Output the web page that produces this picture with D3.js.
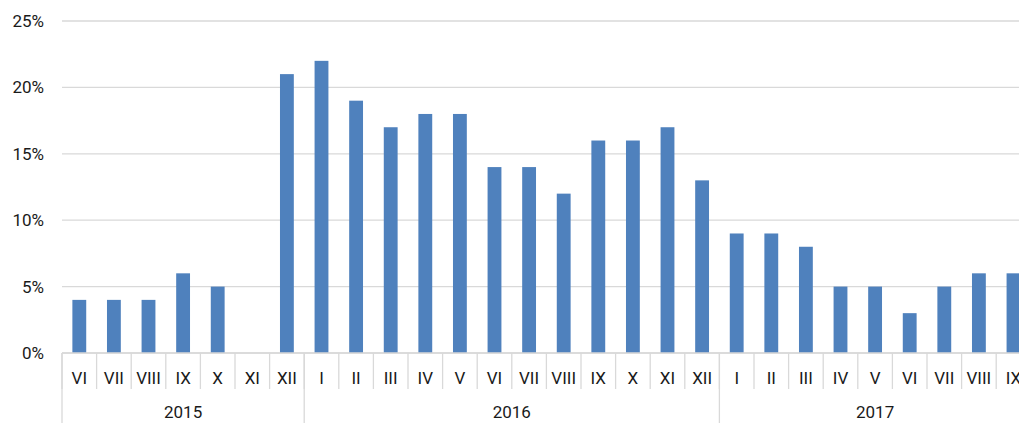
<!DOCTYPE html>
<html>
<head>
<meta charset="utf-8">
<script src="https://cdn.jsdelivr.net/npm/d3@7"></script>
<style>
body { margin: 0; background: #fff; overflow: hidden; }
text { font-family: Roboto, "Liberation Sans", sans-serif; fill: #1a1a1a; }
</style>
</head>
<body>
<script>
let years = ["2015", "2016", "2017"]
let months2015 = ["VI", "VII", "VIII", "IX", "X", "XI", "XII"]
let months2016 = ["I", "II", "III", "IV", "V", "VI", "VII", "VIII", "IX", "X", "XI", "XII"]
let months2017 = ["I", "II", "III", "IV", "V", "VI", "VII", "VIII", "IX"]
let values2015 = [4, 4, 4, 6, 5, 0, 21]
let values2016 = [22, 19, 17, 18, 18, 14, 14, 12, 16, 16, 17, 13]
let values2017 = [9, 9, 8, 5, 5, 3, 5, 6, 6]
let yTicks = [0, 5, 10, 15, 20, 25]

let w = 1019
let h = 423
let left = 62
let bandW = 34.6
let zeroY = 353
let topY = 21

let groups = [
  {year: years[0], months: months2015, values: values2015},
  {year: years[1], months: months2016, values: values2016},
  {year: years[2], months: months2017, values: values2017}
]

let data = []
groups.forEach(g => {
  g.months.forEach((m, i) => {
    data.push({key: g.year + "-" + m, year: g.year, month: m, value: g.values[i]})
  })
})

let svg = d3.select("body").append("svg")
  .attr("width", w)
  .attr("height", h)

let xScale = d3.scaleBand()
  .domain(data.map(d => d.key))
  .range([left, left + bandW * data.length])
  .paddingInner(0)

let barW = bandW * 0.4

let yScale = d3.scaleLinear()
  .domain([0, 25])
  .range([zeroY, topY])

// gridlines
svg.append("g")
  .selectAll("line")
  .data(yTicks)
  .enter()
  .append("line")
  .attr("x1", left)
  .attr("x2", w)
  .attr("y1", d => yScale(d))
  .attr("y2", d => yScale(d))
  .attr("stroke", "#d9d9d9")
  .attr("stroke-width", 1.3)

// y axis labels
let yAxis = d3.axisLeft(yScale)
  .tickValues(yTicks)
  .tickFormat(d => d + "%")
  .tickSize(0)
  .tickPadding(18)
let yg = svg.append("g")
  .attr("transform", "translate(" + left + ",0)")
  .call(yAxis)
yg.select(".domain").remove()
yg.selectAll("text")
  .style("font-size", "17px")
  .attr("fill", "#1a1a1a")

// bars
svg.append("g")
  .selectAll("rect")
  .data(data)
  .enter()
  .append("rect")
  .attr("x", d => xScale(d.key) + (bandW - barW) / 2)
  .attr("width", barW)
  .attr("y", d => yScale(d.value))
  .attr("height", d => zeroY - yScale(d.value))
  .attr("fill", "#4f81bd")

// month separators
svg.append("g")
  .selectAll("line")
  .data(data)
  .enter()
  .append("line")
  .attr("x1", d => xScale(d.key))
  .attr("x2", d => xScale(d.key))
  .attr("y1", zeroY)
  .attr("y2", 389)
  .attr("stroke", "#d9d9d9")
  .attr("stroke-width", 1.3)

// year separators
let yearStarts = groups.map(g => g.year + "-" + g.months[0])
svg.append("g")
  .selectAll("line")
  .data(yearStarts)
  .enter()
  .append("line")
  .attr("x1", d => xScale(d))
  .attr("x2", d => xScale(d))
  .attr("y1", zeroY)
  .attr("y2", h)
  .attr("stroke", "#d9d9d9")
  .attr("stroke-width", 1.3)

// month labels
svg.append("g")
  .selectAll("text")
  .data(data)
  .enter()
  .append("text")
  .attr("x", d => xScale(d.key) + bandW / 2)
  .attr("y", 378)
  .attr("text-anchor", "middle")
  .attr("dominant-baseline", "central")
  .style("font-size", "17px")
  .text(d => d.month)

// year labels
svg.append("g")
  .selectAll("text")
  .data(groups)
  .enter()
  .append("text")
  .attr("x", g => {
    let a = xScale(g.year + "-" + g.months[0])
    let b = xScale(g.year + "-" + g.months[g.months.length - 1]) + bandW
    return (a + b) / 2
  })
  .attr("y", 412)
  .attr("text-anchor", "middle")
  .attr("dominant-baseline", "central")
  .style("font-size", "17px")
  .text(g => g.year)

// x axis baseline
svg.append("line")
  .attr("x1", left)
  .attr("x2", w)
  .attr("y1", zeroY)
  .attr("y2", zeroY)
  .attr("stroke", "#d9d9d9")
  .attr("stroke-width", 1.3)
</script>
</body>
</html>
